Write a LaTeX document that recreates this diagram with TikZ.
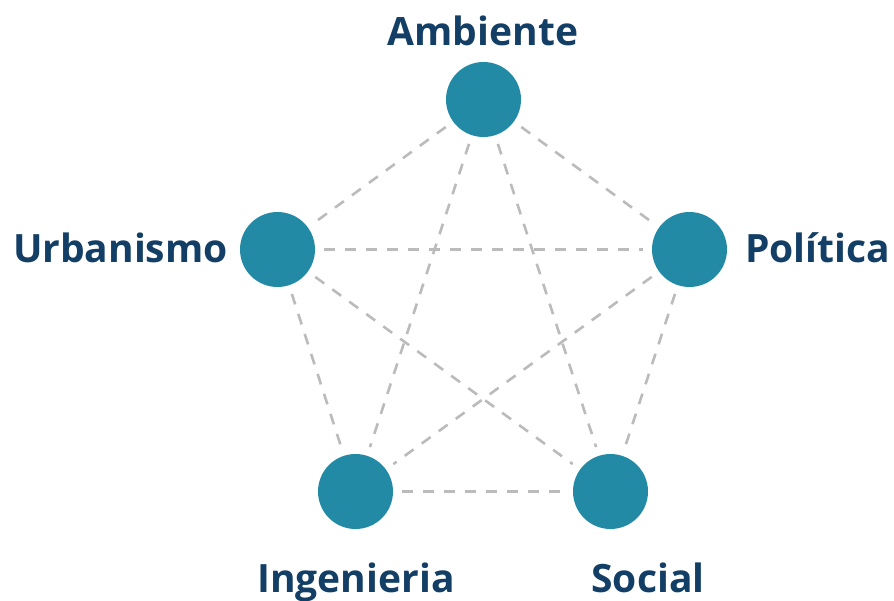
\documentclass[tikz,border=0pt]{standalone}
\usepackage{fontspec}
\setmainfont{Open Sans}[BoldFont={* Bold}]
\usepackage{tikz}
\definecolor{disco}{HTML}{228AA5}
\definecolor{rotulo}{HTML}{133F66}
\definecolor{enlace}{HTML}{BBBBBB}
\tikzset{
  area/.style={circle, fill=disco, minimum size=75pt, inner sep=0pt},
  nombre/.style={text=rotulo, font=\bfseries\fontsize{39}{47}\selectfont, inner sep=0pt},
  vinculo/.style={draw=enlace, line width=2.6pt, dash pattern=on 11pt off 10pt,
    shorten <=9pt, shorten >=9pt}
}
\begin{document}
\begin{tikzpicture}[x=1pt, y=-1pt]
	\useasboundingbox (0, 0) rectangle (894, 601);
	% circulos
	\node[area] (amb) at (483.5, 99.5) {};
	\node[area] (urb) at (277.5, 249.5) {};
	\node[area] (pol) at (689.5, 249.5) {};
	\node[area] (ing) at (355.5, 491.5) {};
	\node[area] (soc) at (610.5, 491.5) {};
	% enlaces
	\foreach \a/\b in {amb/urb, amb/pol, amb/ing, amb/soc, urb/pol, urb/ing, urb/soc, pol/ing, pol/soc, ing/soc}
	  \draw[vinculo] (\a) -- (\b);
	% rotulos
	\node[nombre, anchor=base] (tamb) at (483, 46) {Ambiente};
	\node[nombre, anchor=base east] (turb) at (228, 263) {Urbanismo};
	\node[nombre, anchor=base west] (tpol) at (745, 263) {Política};
	\node[nombre, anchor=base] (ting) at (356, 592) {Ingenieria};
	\node[nombre, anchor=base] (tsoc) at (648, 592) {Social};
\end{tikzpicture}
\end{document}
